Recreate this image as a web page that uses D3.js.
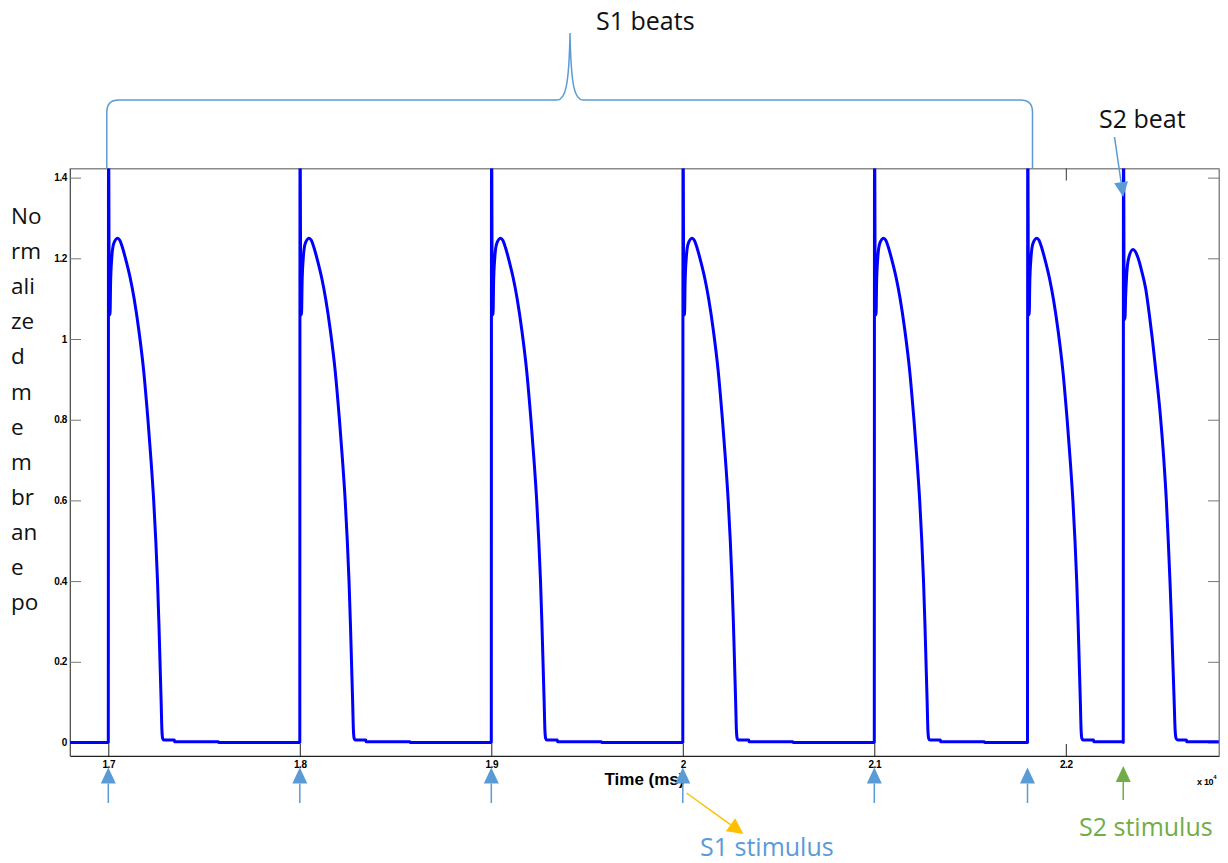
<!DOCTYPE html>
<html>
<head>
<meta charset="utf-8">
<script src="https://cdn.jsdelivr.net/npm/d3@7"></script>
<style>
  body { margin: 0; background: #fff; }
  svg { display: block; }
</style>
</head>
<body>
<svg id="chart" width="1228" height="863"></svg>
<script>
// Stimulus onsets (ms)
const s1Onsets = [17000, 18000, 19000, 20000, 21000, 21800];
const s2Onsets = [22300];

// S1 action potential: time after stimulus (ms) and normalized potential
const s1ShapeT = [0, 1, 3, 5, 7, 9, 12, 18, 28, 48, 60, 75, 95, 115, 135, 160, 185, 207, 223, 237, 248, 257, 264, 270, 276, 280, 284, 290, 345, 346, 575, 576];
const s1ShapeV = [0, 1.6, 1.36, 1.06, 1.18, 1.06, 1.14, 1.2, 1.236, 1.25, 1.245, 1.225, 1.19, 1.15, 1.1, 1.02, 0.92, 0.8, 0.7, 0.6, 0.5, 0.4, 0.3, 0.2, 0.1, 0.03, 0.01, 0.006, 0.006, 0.002, 0.002, 0];

// S2 (premature) action potential
const s2ShapeT = [0, 1, 3, 5, 7, 9, 12, 18, 28, 51, 63, 78, 97, 117, 135, 152, 168, 192, 212, 225, 235, 244, 252, 259, 266, 271, 276, 284, 330, 331];
const s2ShapeV = [0, 1.6, 1.34, 1.047, 1.15, 1.05, 1.1, 1.16, 1.2, 1.222, 1.217, 1.2, 1.167, 1.125, 1.065, 1.0, 0.93, 0.82, 0.7, 0.6, 0.5, 0.4, 0.3, 0.2, 0.1, 0.03, 0.01, 0.006, 0.006, 0.002];

// Axis limits and ticks
const xLimits = [16800, 22800];
const yLimits = [-0.0335, 1.4226];
const xTicks = [17000, 18000, 19000, 20000, 21000, 22000];
const xTickLabels = ["1.7", "1.8", "1.9", "2", "2.1", "2.2"];
const yTicks = [0, 0.2, 0.4, 0.6, 0.8, 1, 1.2, 1.4];
const yTickLabels = ["0", "0.2", "0.4", "0.6", "0.8", "1", "1.2", "1.4"];

// Wrapped y-axis caption
const yLabelLines = ["No", "rm", "ali", "ze", "d", "m", "e", "m", "br", "an", "e", "po"];

const BLUE_NOTE = "#5B9BD5";
const GREEN_NOTE = "#70AD47";
const YELLOW_NOTE = "#FFC000";
const TEXT_FONT = "'Open Sans', 'Noto Sans', sans-serif";
const AXIS_FONT = "'Liberation Sans', Arial, sans-serif";

const plot = { left: 70, right: 1219, top: 168.5, bottom: 756 };

const svg = d3.select("#chart");

const x = d3.scaleLinear().domain(xLimits).range([plot.left, plot.right]);
const y = d3.scaleLinear().domain(yLimits).range([plot.bottom, plot.top]);

// Assemble the trace beat by beat
const beats = s1Onsets.map(t => ({ t, T: s1ShapeT, V: s1ShapeV }))
  .concat(s2Onsets.map(t => ({ t, T: s2ShapeT, V: s2ShapeV })))
  .sort((a, b) => a.t - b.t);

const trace = [[xLimits[0], 0]];
beats.forEach((b, i) => {
  const next = i < beats.length - 1 ? beats[i + 1].t : xLimits[1];
  let lastV = 0;
  b.T.forEach((dt, j) => {
    if (b.t + dt < next - 1) {
      trace.push([b.t + dt, b.V[j]]);
      lastV = b.V[j];
    }
  });
  trace.push([next - 1, lastV]);
});

// Frame and axes
const axisG = svg.append("g");

axisG.append("rect")
  .attr("x", plot.left).attr("y", plot.top)
  .attr("width", plot.right - plot.left).attr("height", plot.bottom - plot.top)
  .attr("fill", "none").attr("stroke", "#8a8a8a").attr("stroke-width", 1);

const xAxis = d3.axisBottom(x).tickValues(xTicks)
  .tickFormat((d, i) => xTickLabels[i]).tickSizeInner(-12).tickSizeOuter(0).tickPadding(0);
const gx = axisG.append("g").attr("transform", `translate(0,${plot.bottom})`).call(xAxis);
gx.select(".domain").attr("stroke", "#222");
gx.selectAll(".tick line").attr("stroke", "#222");
gx.selectAll(".tick text")
  .attr("y", 12).attr("dy", "0")
  .attr("font-family", AXIS_FONT).attr("font-size", 10).attr("font-weight", "bold")
  .attr("letter-spacing", -0.4).attr("fill", "#000");

const gxTop = axisG.append("g").attr("transform", `translate(0,${plot.top})`)
  .call(d3.axisTop(x).tickValues(xTicks).tickFormat("").tickSizeInner(-12).tickSizeOuter(0));
gxTop.select(".domain").attr("stroke", "#8a8a8a");
gxTop.selectAll(".tick line").attr("stroke", "#333");

const yAxis = d3.axisLeft(y).tickValues(yTicks)
  .tickFormat((d, i) => yTickLabels[i]).tickSizeInner(-11).tickSizeOuter(0).tickPadding(3);
const gy = axisG.append("g").attr("transform", `translate(${plot.left},0)`).call(yAxis);
gy.select(".domain").attr("stroke", "#555");
gy.selectAll(".tick line").attr("stroke", "#777");
gy.selectAll(".tick text")
  .attr("font-family", AXIS_FONT).attr("font-size", 10).attr("font-weight", "bold")
  .attr("letter-spacing", -0.4).attr("fill", "#000");

const gyRight = axisG.append("g").attr("transform", `translate(${plot.right},0)`)
  .call(d3.axisRight(y).tickValues(yTicks).tickFormat("").tickSizeInner(-11).tickSizeOuter(0));
gyRight.select(".domain").attr("stroke", "#8a8a8a");
gyRight.selectAll(".tick line").attr("stroke", "#777");

axisG.selectAll(".domain").attr("stroke-width", 1);

// Axis captions
svg.append("text")
  .attr("x", (plot.left + plot.right) / 2).attr("y", 785)
  .attr("text-anchor", "middle")
  .attr("font-family", AXIS_FONT).attr("font-size", 17).attr("font-weight", "bold")
  .attr("fill", "#000")
  .text("Time (ms)");

const expo = svg.append("text")
  .attr("x", 1197).attr("y", 785)
  .attr("font-family", AXIS_FONT).attr("font-size", 9).attr("font-weight", "bold")
  .attr("letter-spacing", -0.3).attr("fill", "#000");
expo.append("tspan").text("x 10");
expo.append("tspan").attr("dy", -6).attr("font-size", 6).text("4");

svg.append("g").selectAll("text")
  .data(yLabelLines)
  .join("text")
  .attr("x", 11)
  .attr("y", (d, i) => 224 + i * 35.1)
  .attr("font-family", TEXT_FONT).attr("font-size", 22.5)
  .attr("fill", "#111")
  .text(d => d);

// Membrane potential trace
svg.append("clipPath").attr("id", "plot-clip")
  .append("rect")
  .attr("x", plot.left).attr("y", plot.top)
  .attr("width", plot.right - plot.left).attr("height", plot.bottom - plot.top);

const line = d3.line()
  .x(d => x(d[0]))
  .y(d => y(d[1]))
  .curve(d3.curveMonotoneX);

svg.append("path")
  .datum(trace)
  .attr("clip-path", "url(#plot-clip)")
  .attr("d", line)
  .attr("fill", "none")
  .attr("stroke", "#0000FF")
  .attr("stroke-width", 3)
  .attr("stroke-linejoin", "round");

// Annotations
const notes = svg.append("g");

function arrow(x1, y1, x2, y2, color, sw, headLen, headHalf) {
  const a = Math.atan2(y2 - y1, x2 - x1);
  const bx = x2 - headLen * Math.cos(a);
  const by = y2 - headLen * Math.sin(a);
  notes.append("line")
    .attr("x1", x1).attr("y1", y1).attr("x2", bx).attr("y2", by)
    .attr("stroke", color).attr("stroke-width", sw);
  const px = -Math.sin(a) * headHalf;
  const py = Math.cos(a) * headHalf;
  notes.append("path")
    .attr("d", `M${x2},${y2}L${bx + px},${by + py}L${bx - px},${by - py}Z`)
    .attr("fill", color);
}

// Curly brace over the S1 train
const bL = x(s1Onsets[0]) - 1.5;
const bR = x(s1Onsets[s1Onsets.length - 1]) + 5;
const bMid = 570, bTop = 33, bY = 100;
const bracePath = [
  `M${bL},${plot.top}`,
  `L${bL},${bY + 12}`,
  `Q${bL},${bY} ${bL + 12},${bY}`,
  `L${bMid - 13},${bY}`,
  `C${bMid - 5},${bY} ${bMid - 1},${bY - 12} ${bMid},${bTop}`,
  `C${bMid + 1},${bY - 12} ${bMid + 5},${bY} ${bMid + 13},${bY}`,
  `L${bR - 12},${bY}`,
  `Q${bR},${bY} ${bR},${bY + 12}`,
  `L${bR},${plot.top}`
].join(" ");
notes.append("path").attr("d", bracePath)
  .attr("fill", "none").attr("stroke", BLUE_NOTE).attr("stroke-width", 1.5);

notes.append("text")
  .attr("x", 596).attr("y", 30)
  .attr("font-family", TEXT_FONT).attr("font-size", 25).attr("fill", "#111")
  .text("S1 beats");

notes.append("text")
  .attr("x", 1099).attr("y", 128)
  .attr("font-family", TEXT_FONT).attr("font-size", 25).attr("fill", "#111")
  .text("S2 beat");
arrow(1114.5, 137, x(s2Onsets[0]), 197, BLUE_NOTE, 1.5, 15, 7);

// Stimulus markers below the axis
s1Onsets.forEach(t => arrow(x(t), 803, x(t), 767.5, BLUE_NOTE, 1.5, 16, 7.5));
s2Onsets.forEach(t => arrow(x(t), 800, x(t), 766, GREEN_NOTE, 1.5, 16, 7.5));

arrow(686.5, 793, 743.5, 834, YELLOW_NOTE, 1.5, 16, 8);

notes.append("text")
  .attr("x", 700).attr("y", 856)
  .attr("font-family", TEXT_FONT).attr("font-size", 25).attr("fill", BLUE_NOTE)
  .text("S1 stimulus");

notes.append("text")
  .attr("x", 1079).attr("y", 836)
  .attr("font-family", TEXT_FONT).attr("font-size", 25).attr("fill", GREEN_NOTE)
  .text("S2 stimulus");
</script>
</body>
</html>
